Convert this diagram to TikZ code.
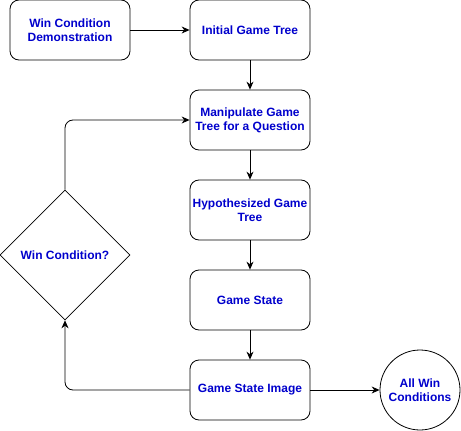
\documentclass[tikz,border=0pt]{standalone}
\usepackage{fontspec}
\setmainfont{Liberation Sans}
\usetikzlibrary{shapes.geometric,arrows.meta}
\definecolor{txtblue}{RGB}{0,0,204}
\begin{document}
\begin{tikzpicture}[x=1pt,y=-1pt,
  every node/.style={font=\fontsize{12}{14}\selectfont\bfseries, text=txtblue, align=center},
  procbox/.style={draw, line width=0.8pt, rounded corners=9pt, minimum width=120pt, minimum height=60pt, inner sep=1pt},
  decbox/.style={draw, diamond, line width=0.6pt, minimum width=130pt, minimum height=130pt, inner sep=0pt, aspect=1},
  endcirc/.style={draw, circle, line width=0.8pt, minimum size=80pt, inner sep=0pt},
  conn/.style={draw, line width=0.8pt, -{Stealth[length=8pt,width=7pt]}}]
\useasboundingbox (0,0) rectangle (461,431);
\node[procbox] (demo) at (70,30) {Win Condition\\Demonstration};
\node[procbox] (init) at (250,30) {Initial Game Tree};
\node[procbox] (manip) at (250,120) {Manipulate Game\\Tree for a Question};
\node[procbox] (hyp) at (250,210) {Hypothesized Game\\Tree};
\node[procbox] (state) at (250,300) {Game State};
\node[procbox] (img) at (250,390) {Game State Image};
\node[endcirc] (all) at (420,390) {All Win\\Conditions};
\node[decbox] (win) at (65,255) {Win Condition?};
\draw[conn] (demo) -- (init);
\draw[conn] (init) -- (manip);
\draw[conn] (manip) -- (hyp);
\draw[conn] (hyp) -- (state);
\draw[conn] (state) -- (img);
\draw[conn] (img) -- (all);
\draw[conn, rounded corners=8pt] (img.west) -| (win.south);
\draw[conn, rounded corners=8pt] (win.north) |- (manip.west);
\end{tikzpicture}
\end{document}
